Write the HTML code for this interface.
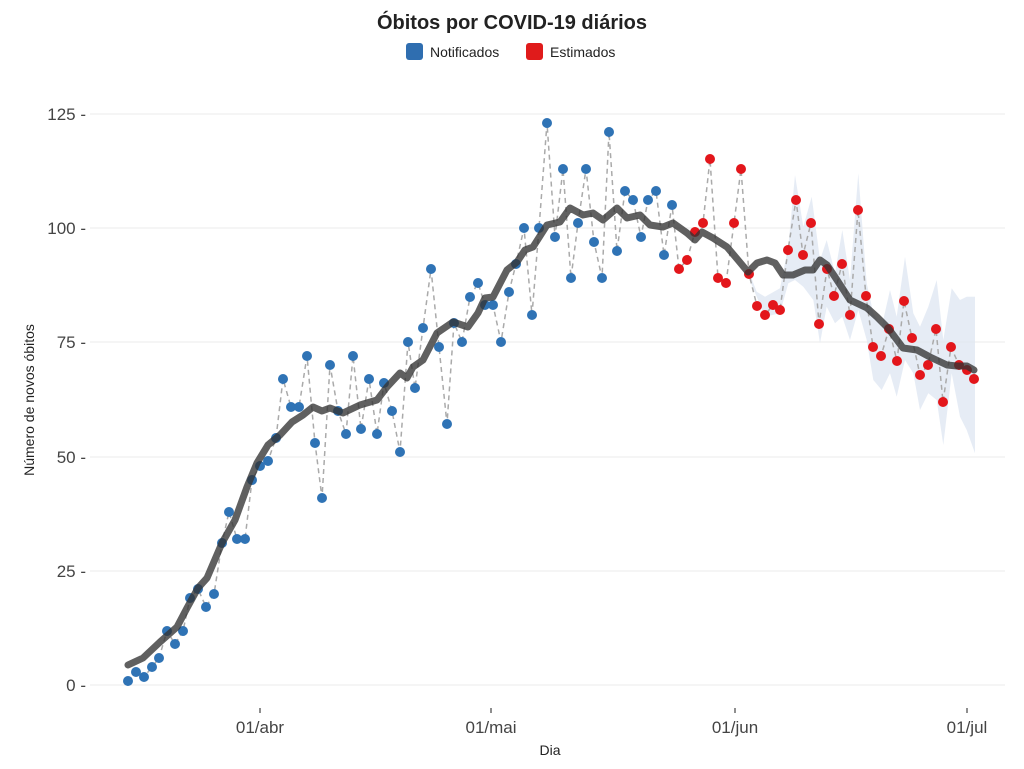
<!DOCTYPE html>
<html><head><meta charset="utf-8"><style>
body{margin:0;background:#fff;}
svg{display:block;font-family:"Liberation Sans",sans-serif;}
</style></head><body>
<svg id="s" width="1024" height="769" viewBox="0 0 1024 769" xmlns="http://www.w3.org/2000/svg">
<rect width="1024" height="769" fill="#fff"/>
<g stroke="#ebebeb" stroke-width="1">
<line x1="90" x2="1005" y1="114" y2="114"/><line x1="90" x2="1005" y1="228" y2="228"/><line x1="90" x2="1005" y1="342" y2="342"/><line x1="90" x2="1005" y1="457" y2="457"/><line x1="90" x2="1005" y1="571" y2="571"/><line x1="90" x2="1005" y1="685" y2="685"/>
</g>
<g font-size="17" fill="#444" text-anchor="end">
<text x="86" y="120">125 -</text><text x="86" y="234">100 -</text><text x="86" y="348">75 -</text><text x="86" y="463">50 -</text><text x="86" y="577">25 -</text><text x="86" y="691">0 -</text>
</g>
<g font-size="17" fill="#444" text-anchor="middle">
<text x="260" y="733">01/abr</text><text x="491" y="733">01/mai</text><text x="735" y="733">01/jun</text><text x="967" y="733">01/jul</text>
</g>
<g stroke="#444" stroke-width="1.2">
<line x1="260" x2="260" y1="708" y2="713"/><line x1="491" x2="491" y1="708" y2="713"/><line x1="735" x2="735" y1="708" y2="713"/><line x1="967" x2="967" y1="708" y2="713"/>
</g>
<text x="550" y="755" font-size="14" fill="#222" text-anchor="middle">Dia</text>
<text transform="translate(34,400) rotate(-90)" font-size="14" fill="#222" text-anchor="middle">Número de novos óbitos</text>
<text x="512" y="29" font-size="20" font-weight="bold" fill="#222" text-anchor="middle">Óbitos por COVID-19 diários</text>
<rect x="406" y="43" width="17" height="17" rx="3" fill="#2f6eb0"/><text x="430" y="57" font-size="14" fill="#222">Notificados</text>
<rect x="526" y="43" width="17" height="17" rx="3" fill="#e01b1b"/><text x="550" y="57" font-size="14" fill="#222">Estimados</text>
<g id="g"></g>
</svg>
<script>
var ns="http://www.w3.org/2000/svg",g=document.getElementById("g");
function el(t,a){var e=document.createElementNS(ns,t);for(var k in a)e.setAttribute(k,a[k]);g.appendChild(e);return e;}
var up=[[205,390],[230,455],[255,470],[300,445],[325,320],[345,105],[370,260],[395,170],[420,360],[440,300],[465,400],[487,270],[510,420],[535,100],[560,430],[580,520],[605,560],[630,450],[650,530],[675,350],[700,520],[720,560],[745,500],[770,420],[790,600],[815,445],[840,480],[860,470],[885,470]];
var lo=[[885,940],[860,870],[840,830],[815,700],[790,915],[770,780],[745,760],[720,810],[700,700],[675,660],[650,770],[630,700],[605,750],[580,720],[560,600],[535,510],[510,600],[487,530],[465,550],[440,500],[420,610],[400,480],[370,440],[345,420],[325,430],[300,520],[255,530],[230,470],[205,410]];
var rb=up.concat(lo).map(function(p){return (p[0]/3+680).toFixed(1)+","+(p[1]/3+140).toFixed(1)}).join(" ");
el("polygon",{points:rb,fill:"#dde6f1",opacity:"0.75"});
var blue=[[128,681],[136,672],[144,677],[152,667],[159,658],[167,631],[175,644],[183,631],[190,598],[198,589],[206,607],[214,594],[222,543],[229,512],[237,539],[245,539],[252,480],[260,466],[268,461],[276,438],[283,379],[291,407],[299,407],[307,356],[315,443],[322,498],[330,365],[338,411],[346,434],[353,356],[361,429],[369,379],[377,434],[384,383],[392,411],[400,452],[408,342],[415,388],[423,328],[431,269],[439,347],[447,424],[454,323],[462,342],[470,297],[478,283],[485,305],[493,305],[501,342],[509,292],[516,264],[524,228],[532,315],[539,228],[547,123],[555,237],[563,169],[571,278],[578,223],[586,169],[594,242],[602,278],[609,132],[617,251],[625,191],[633,200],[641,237],[648,200],[656,191],[664,255],[672,205]];
var red=[[679,269],[687,260],[695,232],[703,223],[710,159],[718,278],[726,283],[734,223],[741,169],[749,274],[757,306],[765,315],[773,305],[780,310],[788,250],[796,200],[803,255],[811,223],[819,324],[827,269],[834,296],[842,264],[850,315],[858,210],[866,296],[873,347],[881,356],[889,329],[897,361],[904,301],[912,338],[920,375],[928,365],[936,329],[943,402],[951,347],[959,365],[967,370],[974,379]];
var all=blue.concat(red);
el("polyline",{points:all.map(String).join(" "),fill:"none",stroke:"#aaa","stroke-width":"1.5","stroke-dasharray":"5,4"});
var sm=[[128,665],[143,658],[160,642],[177,627],[187,608],[198,588],[207,578],[222,543],[235,520],[247,487],[257,463],[268,445],[280,435],[292,422],[303,415],[313,407],[322,411],[330,408],[343,413],[360,405],[377,400],[387,387],[400,373],[407,378],[413,367],[423,360],[437,333],[453,322],[468,327],[478,313],[485,298],[493,297],[507,270],[517,262],[525,250],[533,247],[547,225],[560,222],[570,208],[583,215],[593,213],[603,220],[617,208],[627,218],[640,215],[650,225],[663,227],[673,223],[687,233],[695,240],[702,232],[713,238],[727,247],[738,260],[748,272],[757,263],[767,260],[775,263],[783,275],[793,275],[805,270],[813,270],[820,260],[827,265],[837,280],[850,300],[867,308],[877,317],[888,328],[903,348],[917,350],[930,357],[947,365],[957,366],[967,366],[974,370]];
blue.forEach(function(p){el("circle",{cx:p[0],cy:p[1],r:5,fill:"#2f73b5"})});
red.forEach(function(p){el("circle",{cx:p[0],cy:p[1],r:5,fill:"#e3161b"})});
el("polyline",{points:sm.map(String).join(" "),fill:"none",stroke:"#333","stroke-width":"7","stroke-opacity":"0.78","stroke-linejoin":"round","stroke-linecap":"round"});
</script>
</body></html>
